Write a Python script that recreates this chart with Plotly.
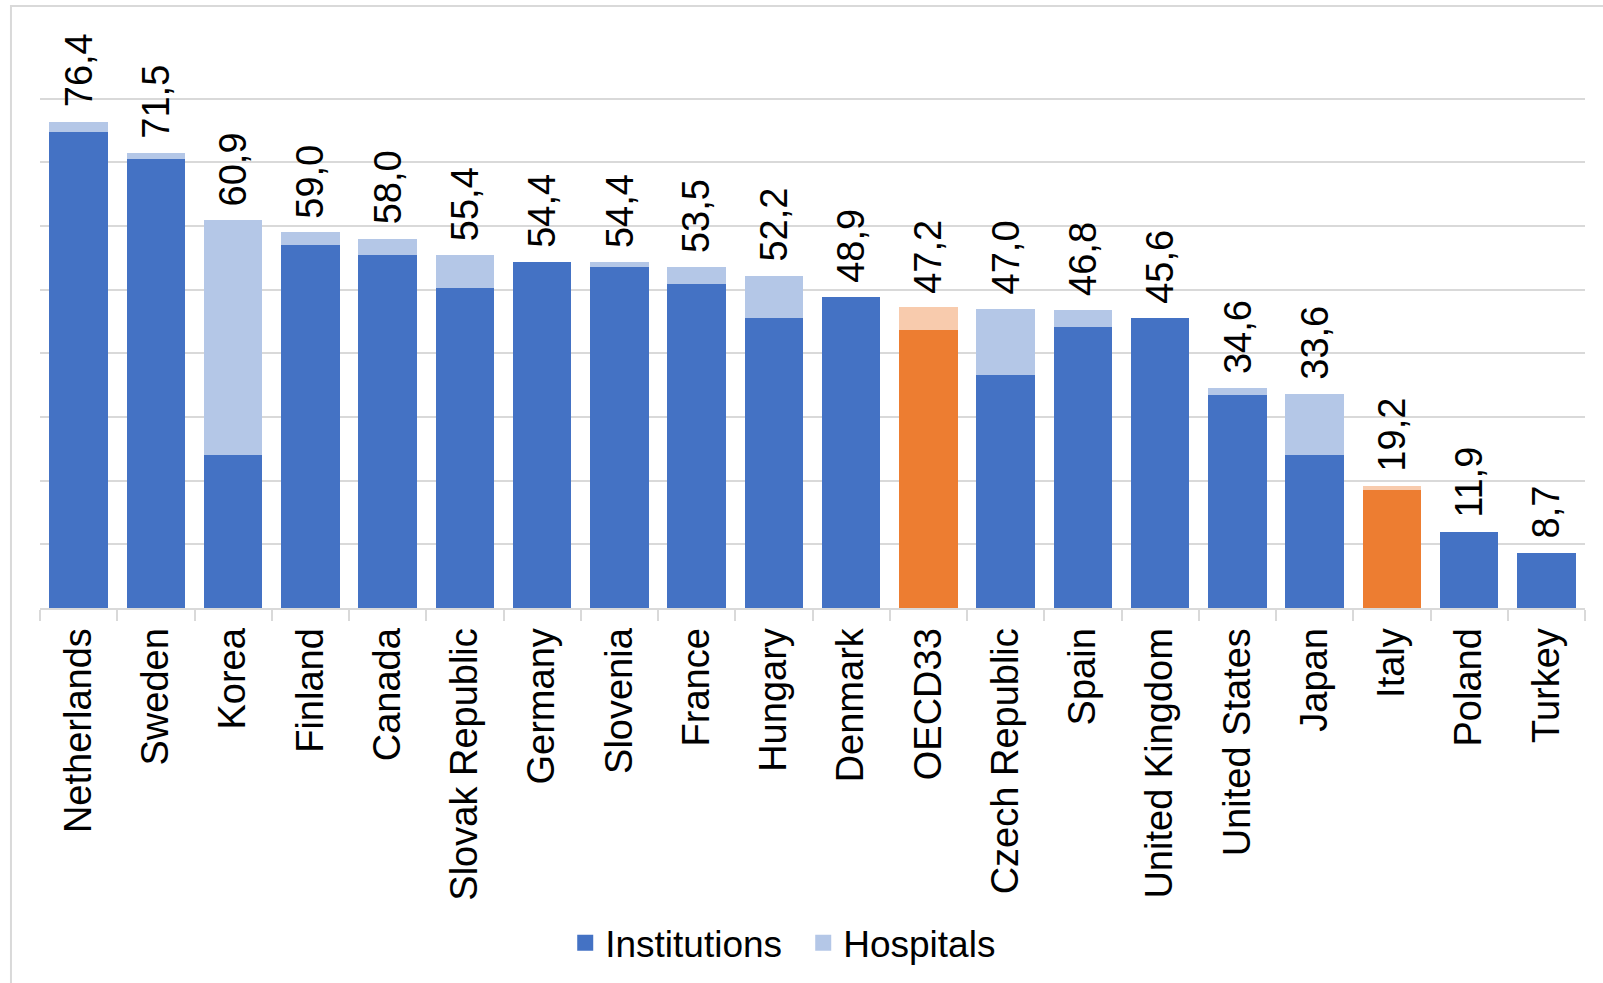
import plotly.graph_objects as go

categories = ["Netherlands", "Sweden", "Korea", "Finland", "Canada", "Slovak Republic",
              "Germany", "Slovenia", "France", "Hungary", "Denmark", "OECD33",
              "Czech Republic", "Spain", "United Kingdom", "United States", "Japan",
              "Italy", "Poland", "Turkey"]
institutions = [74.8, 70.5, 24.1, 57.0, 55.4, 50.2, 54.4, 53.6, 50.9, 45.6,
                48.9, 43.7, 36.6, 44.1, 45.6, 33.4, 24.1, 18.6, 11.9, 8.7]
hospitals = [1.6, 1.0, 36.8, 2.0, 2.6, 5.2, 0.0, 0.8, 2.6, 6.6,
             0.0, 3.5, 10.4, 2.7, 0.0, 1.2, 9.5, 0.6, 0.0, 0.0]
highlight = ["OECD33", "Italy"]

BLUE, LBLUE = "#4472C4", "#B4C7E7"
ORANGE, LORANGE = "#ED7D31", "#F8CBAD"
FONT = "Liberation Sans, Arial, sans-serif"

inst_colors = [ORANGE if c in highlight else BLUE for c in categories]
hosp_colors = [LORANGE if c in highlight else LBLUE for c in categories]

fig = go.Figure()
fig.add_trace(go.Bar(x=categories, y=institutions, name="Institutions",
                     marker=dict(color=inst_colors, line=dict(width=0)),
                     showlegend=False, hoverinfo="skip"))
fig.add_trace(go.Bar(x=categories, y=hospitals, name="Hospitals",
                     marker=dict(color=hosp_colors, line=dict(width=0)),
                     showlegend=False, hoverinfo="skip"))
# legend entries
fig.add_trace(go.Scatter(x=[None], y=[None], mode="markers", name="Institutions",
                         marker=dict(symbol="square", size=19, color=BLUE)))
fig.add_trace(go.Scatter(x=[None], y=[None], mode="markers", name="Hospitals",
                         marker=dict(symbol="square", size=19, color=LBLUE)))

totals = [round(a + b, 1) for a, b in zip(institutions, hospitals)]
for c, t in zip(categories, totals):
    fig.add_annotation(x=c, y=t, text=f"{t:.1f}".replace(".", ","),
                       textangle=-90, showarrow=False, yanchor="bottom",
                       yshift=12, font=dict(size=38, color="black", family=FONT))

# outer chart border
fig.add_shape(type="rect", xref="paper", yref="paper",
              x0=-0.0188, x1=1.05, y0=-0.8, y1=1.0506,
              line=dict(color="#D9D9D9", width=2), fillcolor="rgba(0,0,0,0)",
              layer="below")

fig.update_layout(
    width=1603, height=983,
    barmode="stack", bargap=0.24,
    plot_bgcolor="white", paper_bgcolor="white",
    margin=dict(l=40, r=18, t=35, b=375, autoexpand=False),
    font=dict(family=FONT, size=38, color="black"),
    legend=dict(orientation="h", x=0.494, xanchor="center", y=-0.585, yanchor="middle",
                font=dict(size=37), itemclick=False, traceorder="normal",
                entrywidth=193, entrywidthmode="pixels"),
    xaxis=dict(type="category", tickangle=-90, tickson="boundaries",
               ticks="outside", ticklen=11, tickcolor="#D9D9D9", tickwidth=2,
               ticklabelstandoff=3,
               showline=True, linecolor="#D9D9D9", linewidth=2,
               showgrid=False, tickfont=dict(size=38, color="black")),
    yaxis=dict(range=[0, 90], dtick=10, showticklabels=False, showgrid=True,
               gridcolor="#D9D9D9", gridwidth=2, zeroline=False, showline=False,
               fixedrange=True),
)

fig.write_html("out.html", config={"displayModeBar": False},
               post_script="document.body.style.margin='0';")
